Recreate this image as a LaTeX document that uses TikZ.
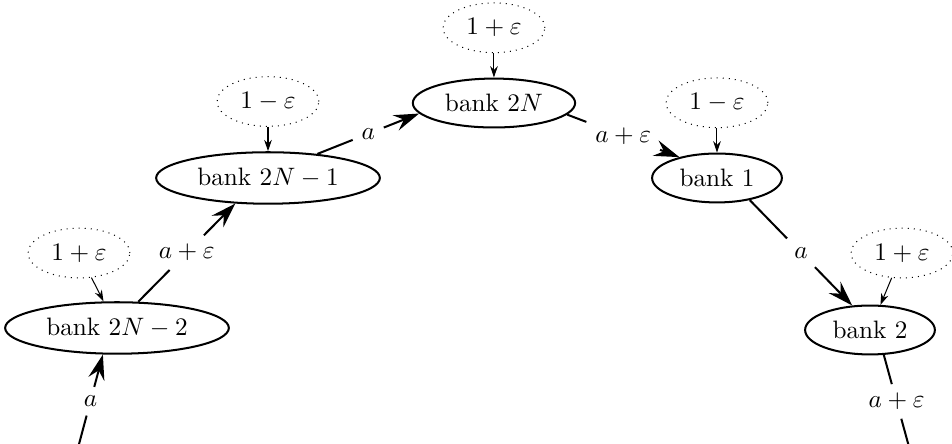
\documentclass[tikz,border=0pt]{standalone}
\usepackage{amsmath}
\usepackage{amssymb}
\usetikzlibrary{arrows.meta,positioning,shapes.geometric}

\begin{document}
\begin{tikzpicture}[node distance=0.34cm,
  bank node/.style={ellipse,draw,thick},
  shock node/.style={ellipse,draw,dotted},
  flow/.style={thick},
  flow arrow/.style={thick,-{Stealth[length=10pt,width=6.5pt,inset=3.5pt]}},
  shock arrow/.style={-{Stealth[length=4.5pt,width=3pt]}}]

  \useasboundingbox (0,0) rectangle (13.271,-6.189);

  \node[bank node] (b2nm2) at (1.631,-4.572) {bank $2N-2$};
  \node[bank node] (b2nm1) at (3.736,-2.481) {bank $2N-1$};
  \node[bank node] (b2n) at (6.886,-1.436) {bank $2N$};
  \node[bank node] (b1) at (9.995,-2.481) {bank $1$};
  \node[bank node] (b2) at (12.128,-4.600) {bank $2$};

  \node[shock node] (s1) at (1.101,-3.527) {$1+\varepsilon$};
  \node[shock node] (s2) [above=of b2nm1] {$1-\varepsilon$};
  \node[shock node] (s3) [above=of b2n] {$1+\varepsilon$};
  \node[shock node] (s4) [above=of b1] {$1-\varepsilon$};
  \node[shock node] (s5) at (12.574,-3.527) {$1+\varepsilon$};

  \coordinate (in) at (1.087,-6.245);
  \coordinate (out) at (12.676,-6.245);

  % labels sit on the flows
  \path (in) -- node (l0) {$a$} (b2nm2.242)
        (b2nm2.51) -- node (l1) {$a+\varepsilon$} (b2nm1.218)
        (b2nm1.26) -- node (l2) {$a$} (b2n.188)
        (b2n.351) -- node (l3) {$a+\varepsilon$} (b1.151)
        (b1.326) -- node (l4) {$a$} (b2.126)
        (b2.299) -- node (l5) {$a+\varepsilon$} (out);

  \draw[flow] (in) -- (l0);
  \draw[flow arrow] (l0) -- (b2nm2.242);
  \draw[flow] (b2nm2.51) -- (l1);
  \draw[flow arrow] (l1) -- (b2nm1.218);
  \draw[flow] (b2nm1.26) -- (l2);
  \draw[flow arrow] (l2) -- (b2n.188);
  \draw[flow] (b2n.351) -- (l3);
  \draw[flow arrow] (l3) -- (b1.151);
  \draw[flow] (b1.326) -- (l4);
  \draw[flow arrow] (l4) -- (b2.126);
  \draw[flow] (b2.299) -- (l5);
  \draw[flow] (l5) -- (out);

  \foreach \s/\b in {s1/b2nm2,s2/b2nm1,s3/b2n,s4/b1,s5/b2}
    \draw[shock arrow] (\s) -- (\b);
\end{tikzpicture}
\end{document}
